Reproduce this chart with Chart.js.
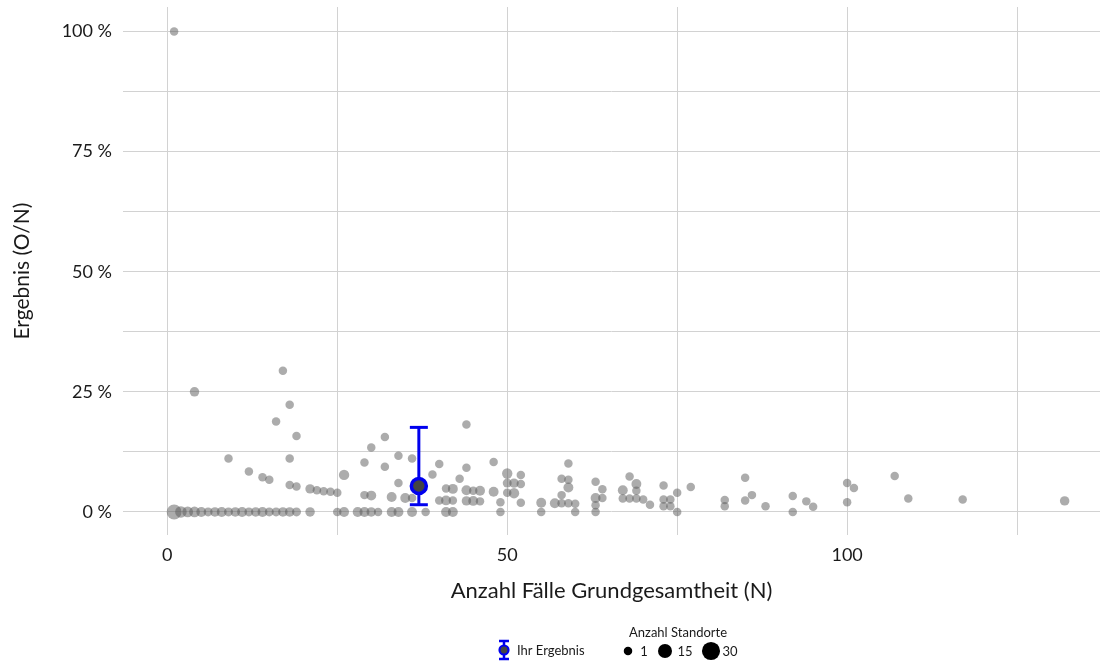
<!DOCTYPE html>
<html>
<head>
<meta charset="utf-8">
<script src="https://cdn.jsdelivr.net/npm/chart.js@4.4.1/dist/chart.umd.min.js"></script>
<style>
html,body{margin:0;padding:0;background:#fff;}
#wrap{position:relative;width:1104px;height:667px;}
</style>
</head>
<body>
<div id="wrap"><canvas id="c" width="1104" height="667"></canvas></div>
<script>
// ---- data ----
const siteN = [
 1,2,3,4,5,6,7,8,9,10,11,12,13,14,15,16,17,18,19,21,25,26,28,29,30,31,33,34,36,38,41,42,49,55,60,63,75,92,
 1,4,17,18,16,19,9,18,12,14,15,18,19,21,22,23,24,25,26,29,30,32,34,32,36,40,39,34,29,30,33,35,36,37,
 40,41,42,41,42,43,44,44,48,50,52,44,45,46,48,50,51,52,50,51,44,45,46,49,52,55,57,58,58,59,59,59,58,59,60,
 63,64,63,64,63,67,68,69,69,67,68,69,70,71,73,73,74,73,74,75,77,82,82,85,85,86,88,92,94,95,100,101,100,107,109,117,132
];
const sitePct = [
 0,0,0,0,0,0,0,0,0,0,0,0,0,0,0,0,0,0,0,0,0,0,0,0,0,0,0,0,0,0,0,0,0,0,0,0,0,0,
 100,25,29.4,22.3,18.8,15.8,11.1,11.1,8.4,7.2,6.7,5.6,5.3,4.8,4.5,4.3,4.2,4.0,7.7,10.3,13.4,15.6,11.7,9.4,11.1,10.0,7.8,6.0,3.5,3.4,3.1,2.9,2.9,5.4,
 2.4,2.4,2.4,4.9,4.8,6.9,9.2,18.2,10.4,8.0,7.7,4.5,4.4,4.4,4.2,6.0,6.0,5.8,4.0,3.9,2.3,2.3,2.2,2.0,1.9,1.9,1.8,3.5,6.9,10.1,6.7,5.1,1.8,1.8,1.7,
 6.3,4.7,2.9,2.9,1.4,4.5,7.4,5.8,4.4,2.8,2.8,2.8,2.6,1.5,5.5,2.6,2.6,1.2,1.2,4.0,5.2,2.5,1.2,7.1,2.4,3.5,1.2,3.3,2.2,1.1,6.0,5.0,2.0,7.5,2.8,2.6,2.3
];
const siteCount = [
 18,8,6,6,4,2,3,4,2,3,4,2,3,4,2,2,3,3,2,3,1,4,4,4,3,1,4,4,4,1,4,4,1,1,1,1,1,1,
 1,3,1,1,1,1,1,1,1,1,1,1,1,3,1,1,1,1,5,1,1,1,1,1,1,1,1,1,1,4,4,4,1,1,
 1,4,1,1,4,1,1,1,1,5,1,4,1,4,4,2,3,1,1,5,3,4,1,1,1,4,4,1,1,1,1,4,1,1,1,
 1,1,4,1,1,4,1,4,1,1,1,1,1,1,1,1,1,1,1,1,1,1,1,1,1,1,1,1,1,1,1,1,1,1,1,1,3
];
const resultN = 37;
const resultPct = 5.4;
const resultLow = 1.5;
const resultHigh = 17.6;
const xTickValues = [0,25,50,75,100,125];
const xTickLabels = ['0','','50','','100',''];
const yTickValues = [0,12.5,25,37.5,50,62.5,75,87.5,100];
const yTickLabels = ['0 %','','25 %','','50 %','','75 %','','100 %'];
const legendSizes = [1,15,30];

// ---- styles ----
const FONT = 'Lato, "Open Sans", sans-serif';
const TXT = '#1a1a1a';
const GRID = '#d2d2d2';
const BLUE = '#0000ee';
const sizeToR = n => Math.sqrt(18 + 2.2*(n-1));

const bubbles = siteN.map((n,i)=>({x:n, y:sitePct[i], r:sizeToR(siteCount[i])}));

const noPad = ax => { ax.paddingTop = 0; ax.paddingBottom = 0; ax.paddingLeft = 0; ax.paddingRight = 0; };

const legendPlugin = {
  id:'customLegend',
  afterDraw(chart){
    const ctx = chart.ctx;
    ctx.save();
    // Ihr Ergebnis icon
    const ix = 504, iy = 650;
    ctx.strokeStyle = BLUE; ctx.lineWidth = 2.5;
    ctx.beginPath(); ctx.moveTo(ix, iy-9); ctx.lineTo(ix, iy+9);
    ctx.moveTo(ix-5, iy-9); ctx.lineTo(ix+5, iy-9);
    ctx.moveTo(ix-5, iy+9); ctx.lineTo(ix+5, iy+9); ctx.stroke();
    ctx.beginPath(); ctx.arc(ix, iy, 4.5, 0, Math.PI*2);
    ctx.fillStyle = '#444'; ctx.fill(); ctx.lineWidth = 2.2; ctx.stroke();
    ctx.fillStyle = TXT; ctx.font = '13px ' + FONT; ctx.textBaseline = 'middle'; ctx.textAlign = 'left';
    ctx.fillText('Ihr Ergebnis', 517, iy+1);
    // size legend
    ctx.textAlign = 'center';
    ctx.fillText('Anzahl Standorte', 678, 633);
    const xs = [628, 665, 711];
    const lx = [644, 685, 730];
    legendSizes.forEach((s,i)=>{
      ctx.beginPath(); ctx.arc(xs[i], 651, sizeToR(s), 0, Math.PI*2);
      ctx.fillStyle = '#000'; ctx.fill();
      ctx.fillStyle = TXT; ctx.textAlign = 'center';
      ctx.fillText(String(s), lx[i], 652);
    });
    ctx.restore();
  }
};

new Chart(document.getElementById('c'), {
  type:'bubble',
  data:{
    datasets:[
      {label:'Standorte', data:bubbles, backgroundColor:'rgba(90,90,90,0.5)', borderWidth:0, hoverRadius:0, order:3, clip:false},
      {type:'line', label:'CI', data:[{x:resultN,y:resultLow},{x:resultN,y:resultHigh}], borderColor:BLUE, borderWidth:3,
        pointStyle:'line', pointRadius:9, pointBorderWidth:3, pointBorderColor:BLUE, order:2, clip:false},
      {type:'scatter', label:'Ihr Ergebnis', data:[{x:resultN,y:resultPct}], backgroundColor:'#444', borderColor:BLUE,
        pointRadius:7.5, pointBorderWidth:3.5, order:1, clip:false}
    ]
  },
  options:{
    responsive:false, animation:false, devicePixelRatio:1,
    layout:{autoPadding:false, padding:{top:7, right:4, bottom:57, left:0}},
    plugins:{legend:{display:false}, tooltip:{enabled:false}},
    scales:{
      x:{type:'linear', min:-6.52, max:137.2,
        afterBuildTicks: ax => { ax.ticks = xTickValues.map(v=>({value:v})); },
        afterFit: ax => { ax.height = 75; noPad(ax); },
        grid:{color:GRID, lineWidth:1, drawTicks:false},
        border:{display:false},
        ticks:{padding:9, color:TXT, font:{family:FONT, size:18},
          callback:(v,i)=> xTickLabels[xTickValues.indexOf(v)] ?? ''},
        title:{display:true, text:'Anzahl Fälle Grundgesamtheit (N)', color:TXT, font:{family:FONT, size:22}, padding:{top:0,bottom:6}}
      },
      y:{type:'linear', min:-4.8, max:105.1,
        afterBuildTicks: ax => { ax.ticks = yTickValues.map(v=>({value:v})); },
        afterFit: ax => { ax.width = 123; noPad(ax); },
        grid:{color:GRID, lineWidth:1, drawTicks:false},
        border:{display:false},
        ticks:{padding:11, color:TXT, font:{family:FONT, size:18},
          callback:(v)=> yTickLabels[yTickValues.indexOf(v)] ?? ''},
        title:{display:true, text:'Ergebnis (O/N)', color:TXT, font:{family:FONT, size:21}, padding:{top:10,bottom:0}}
      }
    }
  },
  plugins:[legendPlugin]
});
</script>
</body>
</html>
